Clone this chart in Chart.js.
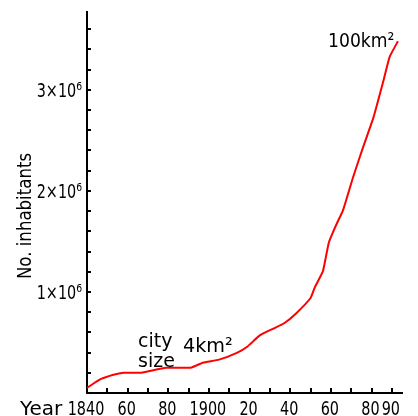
<!DOCTYPE html>
<html>
<head>
<meta charset="utf-8">
<script src="https://cdn.jsdelivr.net/npm/chart.js@4.4.0/dist/chart.umd.min.js"></script>
<style>
  html, body { margin: 0; padding: 0; background: #fff; }
  #wrap { width: 418px; height: 416px; }
</style>
</head>
<body>
<div id="wrap"><canvas id="cityGrowth"></canvas></div>
<script>
const years = [1840, 1846, 1853, 1858, 1866, 1879, 1891, 1897, 1905, 1914, 1919, 1925, 1932,
  1937, 1943, 1950, 1952, 1956, 1957, 1959, 1961, 1963, 1966, 1971, 1976, 1981, 1986, 1989, 1993];
const inhabitants = [0.05, 0.13, 0.18, 0.20, 0.20, 0.25, 0.25, 0.30, 0.33, 0.40, 0.46, 0.57, 0.64,
  0.69, 0.79, 0.94, 1.04, 1.20, 1.29, 1.49, 1.59, 1.68, 1.81, 2.14, 2.44, 2.73, 3.10, 3.33, 3.48]
  .map(v => v * 1e6);

const yearTicks = [1840, 1850, 1860, 1870, 1880, 1890, 1900, 1910, 1920, 1930, 1940, 1950, 1960, 1970, 1980, 1990];
const yearLabels = { 1840: '1840', 1860: '60', 1880: '80', 1900: '1900', 1920: '20', 1940: '40', 1960: '60', 1980: '80', 1990: '90' };
const popTicks = [0, 2e5, 4e5, 6e5, 8e5, 1e6, 1.2e6, 1.4e6, 1.6e6, 1.8e6, 2e6, 2.2e6, 2.4e6, 2.6e6, 2.8e6,
  3e6, 3.2e6, 3.4e6, 3.6e6];
const popLabels = { 1000000: '1×10⁶', 2000000: '2×10⁶', 3000000: '3×10⁶' };

const FONT = "'DejaVu Sans', sans-serif";

// squeezed text, the original uses a tall narrow pixel font
function narrow(ctx, text, x, y, sx, align) {
  ctx.save();
  ctx.translate(x, y);
  ctx.scale(sx, 1);
  ctx.textAlign = align || 'left';
  ctx.fillText(text, 0, 0);
  ctx.restore();
}

// tick marks point into the plot, labels and free texts
const extras = {
  id: 'extras',
  afterDraw(chart) {
    const { ctx, chartArea, scales: { x, y } } = chart;
    ctx.save();
    ctx.strokeStyle = '#000';
    ctx.lineWidth = 2;
    ctx.beginPath();
    yearTicks.slice(1).forEach(v => {
      const px = Math.round(x.getPixelForValue(v));
      ctx.moveTo(px, chartArea.bottom);
      ctx.lineTo(px, chartArea.bottom - 5);
    });
    popTicks.slice(1).forEach(v => {
      const py = Math.round(y.getPixelForValue(v));
      ctx.moveTo(chartArea.left, py);
      ctx.lineTo(chartArea.left + 4, py);
    });
    ctx.stroke();

    ctx.fillStyle = '#000';
    ctx.font = '20px ' + FONT;
    ctx.textBaseline = 'alphabetic';

    yearTicks.forEach(v => {
      if (yearLabels[v]) narrow(ctx, yearLabels[v], x.getPixelForValue(v) - 1, 415, 0.72, 'center');
    });
    popTicks.forEach(v => {
      if (popLabels[v]) narrow(ctx, popLabels[v], chartArea.left - 5, y.getPixelForValue(v) + 7, 0.72, 'right');
    });

    narrow(ctx, 'Year', 20, 415, 1.0);
    narrow(ctx, 'city', 138, 347, 0.95);
    narrow(ctx, 'size', 138, 367, 0.95);
    narrow(ctx, '4km²', 183, 352, 0.96);
    narrow(ctx, '100km²', 328, 47, 0.86);

    ctx.translate(31, 216);
    ctx.rotate(-Math.PI / 2);
    narrow(ctx, 'No. inhabitants', 0, 0, 0.83, 'center');
    ctx.restore();
  }
};

new Chart(document.getElementById('cityGrowth'), {
  type: 'line',
  data: {
    datasets: [{
      data: years.map((yr, i) => ({ x: yr, y: inhabitants[i] })),
      borderColor: '#ff0000',
      borderWidth: 2,
      pointRadius: 0,
      tension: 0.15,
      fill: false
    }]
  },
  options: {
    responsive: true,
    maintainAspectRatio: false,
    animation: false,
    layout: { padding: { top: 12, right: 16, left: 0, bottom: 0 } },
    plugins: { legend: { display: false }, tooltip: { enabled: false } },
    scales: {
      x: {
        type: 'linear',
        min: 1840,
        max: 1995,
        afterBuildTicks: s => { s.ticks = yearTicks.map(v => ({ value: v })); },
        afterFit: s => { s.height = 23; },
        grid: { display: false, drawTicks: false },
        border: { display: true, color: '#000', width: 2 },
        ticks: { display: false }
      },
      y: {
        min: 0,
        max: 3.77e6,
        afterBuildTicks: s => { s.ticks = popTicks.map(v => ({ value: v })); },
        afterFit: s => { s.width = 87; },
        grid: { display: false, drawTicks: false },
        border: { display: true, color: '#000', width: 2 },
        ticks: { display: false }
      }
    }
  },
  plugins: [extras]
});
</script>
</body>
</html>
